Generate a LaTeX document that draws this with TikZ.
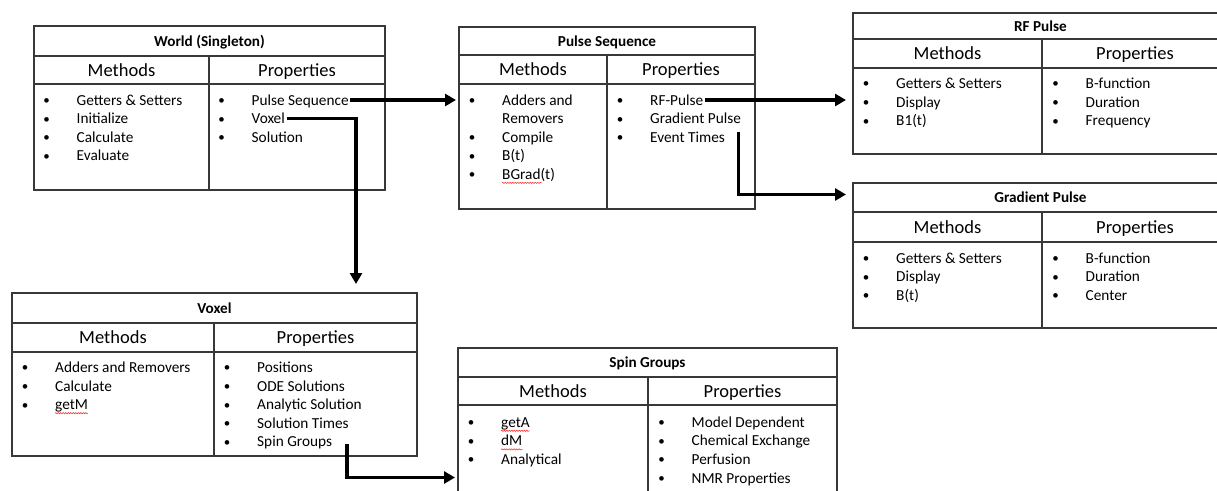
\documentclass[tikz,border=0pt]{standalone}
\usepackage{fontspec}
\setmainfont{Carlito}
\usetikzlibrary{arrows.meta,decorations.pathmorphing}

\tikzset{
  frame/.style={draw=black!78, line width=1.2pt},
  ttl/.style={font=\fontsize{15.2}{18}\selectfont\bfseries, anchor=base, inner sep=0pt},
  hdr/.style={font=\fontsize{18.5}{22}\selectfont, anchor=base, inner sep=0pt},
  itm/.style={font=\fontsize{15.3}{18.6}\selectfont, anchor=base west, inner xsep=1.5pt, inner ysep=0pt, text height=10pt, text depth=0pt},
  bul/.style={font=\fontsize{13}{16}\selectfont, anchor=base, inner sep=0pt, yshift=.6pt},
  link/.style={line width=3.5pt, -{Triangle[length=11pt,width=12pt]}},
  spell/.style={draw=red!80, line width=.6pt, decorate, decoration={snake, amplitude=.6pt, segment length=2.5pt}},
}

\newcommand{\classbox}[9]{%
  \node[frame, anchor=north west, inner sep=0pt, outer sep=0pt, minimum width={#3-#2}, minimum height={#8-#5}] (#1) at (#2,#5) {};
  \draw[frame] (#2,#6) -- (#3,#6) (#2,#7) -- (#3,#7) (#4,#6) -- (#4,#8);
  \node[ttl] (#1-t) at ({(#2+#3)/2},{(#5+#6)/2+5}) {#9};
  \node[hdr] (#1-mh) at ({(#2+#4)/2},{(#6+#7)/2+6}) {Methods};
  \node[hdr] (#1-ph) at ({(#4+#3)/2},{(#6+#7)/2+6}) {Properties};
}
\newcommand{\items}[4]{%
  \foreach \txt [count=\i] in {#4} {
    \node[bul] at ({#2-30},{#3+(\i-1)*18.6}) {\textbullet};
    \node[itm] (#1\i) at ({#2-1.5},{#3+(\i-1)*18.6}) {\txt};
  }
}

\begin{document}
\begin{tikzpicture}[x=1pt, y=-1pt]
  \useasboundingbox (0,0) rectangle (1217,490);
  \clip (0,0) rectangle (1217,490);

  \classbox{world}{34}{385}{209}{26}{56}{84}{190}{World (Singleton)}
  \items{world-m}{76.5}{105}{Getters \& Setters, Initialize, Calculate, Evaluate}
  \items{world-p}{251.5}{105}{Pulse Sequence, Voxel, Solution}

  \classbox{ps}{459}{755}{607}{27}{55}{84}{209}{Pulse Sequence}
  \items{ps-m}{502}{105}{Adders and}
  \node[itm] (ps-m1b) at (500.5,123.6) {Removers};
  \items{ps-n}{502}{142.2}{Compile, B(t), BGrad(t)}
  \items{ps-p}{650}{105}{RF-Pulse, Gradient Pulse, Event Times}

  \classbox{rf}{853}{1228}{1042}{13}{39}{68}{154}{RF Pulse}
  \items{rf-m}{896}{88.5}{Getters \& Setters, Display, B1(t)}
  \items{rf-p}{1085.5}{88.5}{B-function, Duration, Frequency}

  \classbox{grad}{853}{1228}{1042}{183}{212}{242}{328}{Gradient Pulse}
  \items{grad-m}{896}{263}{Getters \& Setters, Display, B(t)}
  \items{grad-p}{1085.5}{263}{B-function, Duration, Center}

  \classbox{vox}{12}{417}{214}{293}{323}{352}{456}{Voxel}
  \items{vox-m}{55}{372.5}{Adders and Removers, Calculate, getM}
  \items{vox-p}{257}{372.5}{Positions, ODE Solutions, Analytic Solution, Solution Times, Spin Groups}

  \classbox{sg}{458}{837}{648}{348}{377}{405}{500}{Spin Groups}
  \items{sg-m}{501}{427.3}{getA, dM, Analytical}
  \items{sg-p}{691.5}{427.3}{Model Dependent, Chemical Exchange, Perfusion, NMR Properties}

  \draw[spell] ([xshift=1.5pt,yshift=-3.5pt]vox-m3.base west) -- ([xshift=-1.5pt,yshift=-3.5pt]vox-m3.base east);
  \draw[spell] ([xshift=1.5pt,yshift=-3.5pt]ps-n3.base west) -- ++(40,0);
  \draw[spell] ([xshift=1.5pt,yshift=-3.5pt]sg-m1.base west) -- ([xshift=-1.5pt,yshift=-3.5pt]sg-m1.base east);
  \draw[spell] ([xshift=1.5pt,yshift=-3.5pt]sg-m2.base west) -- ([xshift=-1.5pt,yshift=-3.5pt]sg-m2.base east);

  \coordinate (vox-in) at (356,284);
  \coordinate (grad-in) at (846,194.5);
  \coordinate (sg-in) at (455,477.5);

  \draw[link, shorten >=3pt] (world-p1.east) -- (world-p1.east -| ps.west);
  \draw[link] (world-p2.east) -| (vox-in);
  \draw[link, shorten >=7pt] (ps-p1.east) -- (ps-p1.east -| rf.west);
  \draw[link] ([xshift=-4pt,yshift=-13pt]ps-p2.east) |- (grad-in);
  \draw[link] ([xshift=13pt,yshift=-2pt]vox-p5.east) |- (sg-in);
\end{tikzpicture}
\end{document}
